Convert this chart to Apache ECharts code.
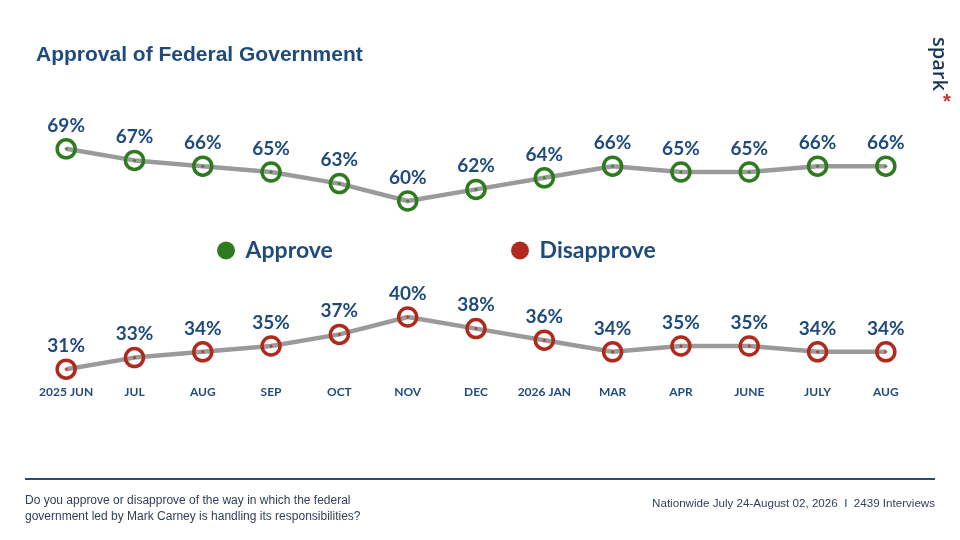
<!DOCTYPE html>
<html>
<head>
<meta charset="utf-8">
<script src="https://cdn.jsdelivr.net/npm/echarts@6/dist/echarts.min.js"></script>
<style>
  html, body { margin: 0; padding: 0; background: #fff; }
  #chart { width: 960px; height: 540px; }
</style>
</head>
<body>
<div id="chart"></div>
<script>
var categories = ['2025 JUN', 'JUL', 'AUG', 'SEP', 'OCT', 'NOV', 'DEC', '2026 JAN', 'MAR', 'APR', 'JUNE', 'JULY', 'AUG'];
var approve = [69, 67, 66, 65, 63, 60, 62, 64, 66, 65, 65, 66, 66];
var disapprove = [31, 33, 34, 35, 37, 40, 38, 36, 34, 35, 35, 34, 34];

var navy = '#1f4b7c';
var green = '#2e7a1f';
var red = '#b0291d';
var lineGray = '#9a9a9a';

var chart = echarts.init(document.getElementById('chart'));

function lineSeries(name, data, idx, col) {
  return {
    name: name,
    type: 'line',
    xAxisIndex: idx,
    yAxisIndex: idx,
    data: data,
    symbol: 'circle',
    symbolSize: 18,
    z: 3,
    lineStyle: { color: lineGray, width: 4.5 },
    itemStyle: { color: 'rgba(255,255,255,0)', borderColor: col, borderWidth: 3.5 },
    emphasis: { disabled: true },
    label: {
      show: true,
      position: 'top',
      distance: 3,
      formatter: '{c}%',
      color: navy,
      fontFamily: 'Lato',
      fontWeight: 'bold',
      fontSize: 19
    }
  };
}

// small dot in the middle of every ring
function dotSeries(data, idx, col) {
  return {
    type: 'scatter',
    xAxisIndex: idx,
    yAxisIndex: idx,
    data: data,
    symbolSize: 3,
    z: 4,
    silent: true,
    itemStyle: { color: col }
  };
}

var legendText = { color: navy, fontFamily: 'Lato', fontWeight: 'bold', fontSize: 23 };

var option = {
  animation: false,
  backgroundColor: '#fff',
  legend: [{
    left: 212,
    top: 234,
    data: [{ name: 'Approve', itemStyle: { color: green, borderWidth: 0 } }],
    icon: 'circle',
    itemWidth: 18,
    itemHeight: 18,
    formatter: ' {name}',
    textStyle: legendText
  }, {
    left: 506,
    top: 234,
    data: [{ name: 'Disapprove', itemStyle: { color: red, borderWidth: 0 } }],
    icon: 'circle',
    itemWidth: 18,
    itemHeight: 18,
    formatter: ' {name}',
    textStyle: legendText
  }],
  grid: [
    { left: 32, right: 40, top: 114, height: 116 },
    { left: 32, right: 40, top: 288, height: 98.6 }
  ],
  xAxis: [{
    type: 'category',
    gridIndex: 0,
    data: categories,
    show: false
  }, {
    type: 'category',
    gridIndex: 1,
    data: categories,
    axisLine: { show: false },
    axisTick: { show: false },
    axisLabel: {
      interval: 0,
      margin: 0,
      color: navy,
      fontFamily: 'Lato',
      fontWeight: 'bold',
      fontSize: 12
    }
  }],
  yAxis: [
    { type: 'value', gridIndex: 0, min: 55, max: 75, show: false, splitLine: { show: false } },
    { type: 'value', gridIndex: 1, min: 28, max: 45, show: false, splitLine: { show: false } }
  ],
  series: [
    lineSeries('Approve', approve, 0, green),
    lineSeries('Disapprove', disapprove, 1, red),
    dotSeries(approve, 0, green),
    dotSeries(disapprove, 1, red)
  ],
  graphic: [{
    type: 'text',
    left: 36,
    top: 45,
    style: {
      text: 'Approval of Federal Government',
      fill: navy,
      font: 'bold 21px "Liberation Sans", Arial, sans-serif'
    }
  }, {
    type: 'text',
    x: 949,
    y: 37,
    rotation: -Math.PI / 2,
    style: {
      text: 'spark',
      fill: '#1d3557',
      font: '600 20px "Open Sans", sans-serif'
    }
  }, {
    type: 'text',
    x: 943,
    y: 92,
    style: {
      text: '*',
      fill: '#d0302a',
      font: 'bold 20px "Liberation Sans", sans-serif'
    }
  }, {
    type: 'line',
    shape: { x1: 25, y1: 479, x2: 935, y2: 479 },
    style: { stroke: '#2c4a78', lineWidth: 2 }
  }, {
    type: 'text',
    left: 25,
    top: 493,
    style: {
      text: 'Do you approve or disapprove of the way in which the federal\ngovernment led by Mark Carney is handling its responsibilities?',
      fill: '#2e3f5c',
      font: '12px "Liberation Sans", Arial, sans-serif',
      lineHeight: 16
    }
  }, {
    type: 'text',
    right: 25,
    top: 498,
    style: {
      text: 'Nationwide July 24-August 02, 2026  I  2439 Interviews',
      fill: '#2e3f5c',
      font: '11.6px "Liberation Sans", Arial, sans-serif'
    }
  }]
};

chart.setOption(option);
</script>
</body>
</html>
